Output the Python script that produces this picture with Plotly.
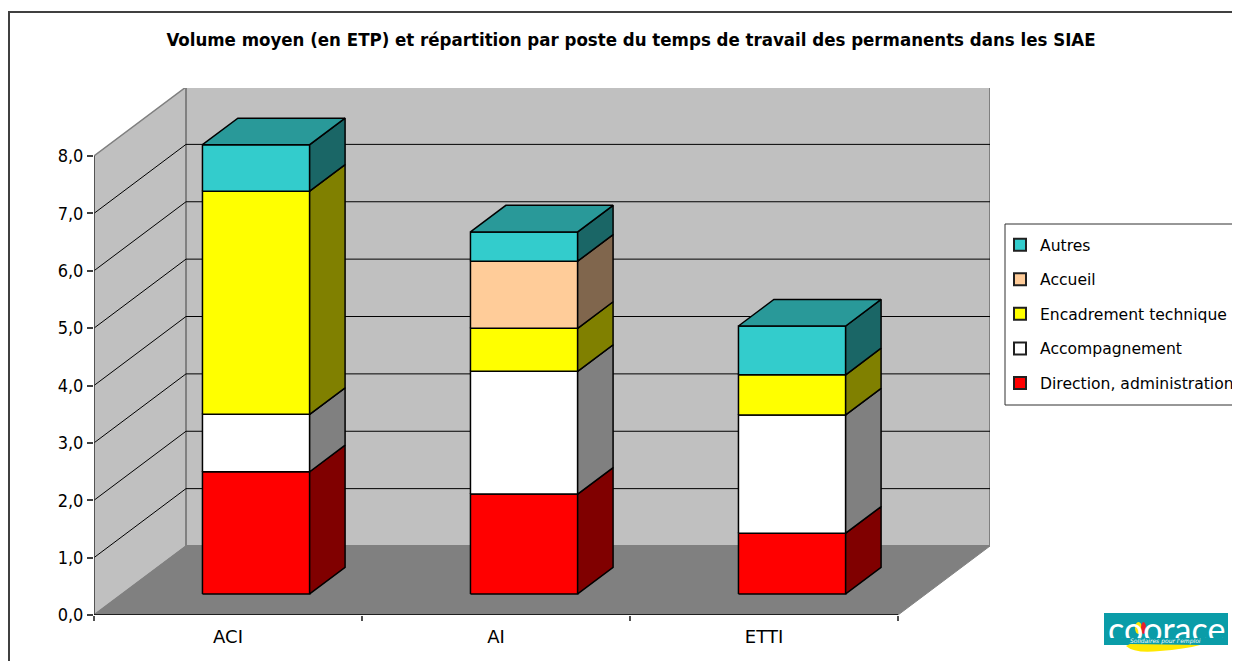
import plotly.graph_objects as go

# ---- data ----
categories = ["ACI", "AI", "ETTI"]
series_names = ["Direction, administration", "Accompagnement", "Encadrement technique", "Accueil", "Autres"]
direction = [2.13, 1.74, 1.06]
accompagnement = [1.00, 2.14, 2.06]
encadrement = [3.89, 0.75, 0.70]
accueil = [0.0, 1.17, 0.0]
autres = [0.81, 0.51, 0.85]
series_values = [direction, accompagnement, encadrement, accueil, autres]
y_ticks = [0, 1, 2, 3, 4, 5, 6, 7, 8]
y_labels = ["0,0", "1,0", "2,0", "3,0", "4,0", "5,0", "6,0", "7,0", "8,0"]

front_colors = ["#ff0000", "#ffffff", "#ffff00", "#ffcc99", "#33cccc"]
side_colors = ["#800000", "#808080", "#808000", "#80664d", "#1a6666"]
top_colors = ["#cc0000", "#cccccc", "#cccc00", "#cca37a", "#299999"]

# ---- layout geometry (page pixels; the page body has an 8 px margin) ----
BODY = 8
W, H = 1240, 661
L, R, T, B = 94, 990, 88, 615
PX_X = (898 - 94) / 3.0      # px per category
PX_Y = (615 - 156) / 8.0     # px per unit
XMAX = (R - L) / PX_X
YMAX = (B - T) / PX_Y
DX = 92.0 / PX_X             # oblique offset of full depth, data units
DY = 69.0 / PX_Y
COND = "DejaVu Sans Condensed, DejaVu Sans"
REG = "DejaVu Sans"
BAR_W = 0.40
D0, D1 = 0.305, 0.69


def P(x, y, d=0.0):
    return x + d * DX, y + d * DY


def poly(points, fill, line="#000000", lw=1.5):
    xs = [p[0] for p in points] + [points[0][0]]
    ys = [p[1] for p in points] + [points[0][1]]
    fig.add_trace(go.Scatter(x=xs, y=ys, mode="lines", fill="toself", fillcolor=fill,
                             line=dict(color=line, width=lw), hoverinfo="skip",
                             showlegend=False))


def seg(points, color, lw=1.0):
    fig.add_trace(go.Scatter(x=[p[0] for p in points], y=[p[1] for p in points], mode="lines",
                             line=dict(color=color, width=lw), hoverinfo="skip",
                             showlegend=False))


fig = go.Figure()
n = len(categories)
top = y_ticks[-1]

# walls and floor
poly([P(0, 0), P(0, top), P(0, top, 1), P(0, 0, 1)], "#c0c0c0", "#808080", 1.5)
poly([P(0, 0, 1), P(0, top, 1), P(n, top, 1), P(n, 0, 1)], "#c0c0c0", "#808080", 2)
poly([P(0, 0), P(n, 0), P(n, 0, 1), P(0, 0, 1)], "#808080", "#808080", 1)

# gridlines
for v in y_ticks[1:-1]:
    seg([P(0, v), P(0, v, 1), P(n, v, 1)], "#000000", 1)

# axes
seg([P(0, 0), P(0, top)], "#404040", 1.5)
seg([P(0, 0), P(n, 0)], "#000000", 1.5)

# stacked bars
for i in range(n):
    xa = i + 0.5 - BAR_W / 2
    xb = i + 0.5 + BAR_W / 2
    base = 0.0
    last = 0
    for s, vals in enumerate(series_values):
        v = vals[i]
        if v <= 0:
            continue
        t = base + v
        poly([P(xa, base, D0), P(xb, base, D0), P(xb, t, D0), P(xa, t, D0)], front_colors[s])
        poly([P(xb, base, D0), P(xb, base, D1), P(xb, t, D1), P(xb, t, D0)], side_colors[s])
        base = t
        last = s
    poly([P(xa, base, D0), P(xb, base, D0), P(xb, base, D1), P(xa, base, D1)], top_colors[last])

# legend entries (top of the stack first)
for s in reversed(range(len(series_names))):
    name = series_names[s]
    fig.add_trace(go.Scatter(x=[None], y=[None], mode="markers", name=name,
                             legendgroup=name,
                             marker=dict(symbol="square", size=11, color=front_colors[s],
                                         line=dict(color="#202020", width=1.5))))


def px(x):
    return (x - L) / (R - L)


def py(y):
    return (B - y) / (B - T)


shapes = [
    dict(type="rect", xref="paper", yref="paper", x0=px(9), x1=px(1300), y0=py(700), y1=py(12),
         line=dict(color="#404040", width=2), fillcolor="rgba(0,0,0,0)", layer="below"),
    dict(type="rect", xref="paper", yref="paper", x0=px(1005), x1=px(1236), y0=py(405), y1=py(224),
         line=dict(color="#303030", width=1), fillcolor="white", layer="below"),
    dict(type="rect", xref="paper", yref="paper", x0=px(1104), x1=px(1228), y0=py(645), y1=py(613),
         line=dict(width=0), fillcolor="#0a9ca8"),
    dict(type="path", xref="paper", yref="paper",
         path=f"M {px(1126)} {py(646)} Q {px(1135)} {py(654)} {px(1160)} {py(651)} "
              f"Q {px(1185)} {py(649)} {px(1200)} {py(645)} L {px(1130)} {py(644)} Z",
         line=dict(width=0), fillcolor="#ffe800"),
    dict(type="circle", xref="paper", yref="paper", x0=px(1135), x1=px(1142), y0=py(634), y1=py(622),
         line=dict(width=0), fillcolor="#ffe800"),
    dict(type="circle", xref="paper", yref="paper", x0=px(1141), x1=px(1146), y0=py(634), y1=py(622),
         line=dict(width=0), fillcolor="#e8202a"),
]

fig.update_layout(
    width=W, height=H, autosize=False,
    paper_bgcolor="white", plot_bgcolor="white",
    margin=dict(l=L - BODY, r=W - (R - BODY), t=T - BODY, b=H - (B - BODY), pad=0, autoexpand=False),
    title=dict(text="<b>Volume moyen (en ETP) et répartition par poste du temps de travail des permanents dans les SIAE</b>",
               x=(631 - BODY) / W, xanchor="center", y=1 - (40 - BODY) / H, yanchor="middle",
               font=dict(family=COND, size=18.5, color="black")),
    xaxis=dict(range=[0, XMAX], showgrid=False, zeroline=False, showline=False,
               tickmode="array", tickvals=[0.5, 1.5, 2.5], ticktext=categories,
               ticks="", ticklabelstandoff=9, tickfont=dict(family=REG, size=18, color="black"),
               minor=dict(tickmode="array", tickvals=[0, 1, 2, 3], ticks="outside", ticklen=5,
                          tickwidth=1.5, tickcolor="#505050", showgrid=False)),
    yaxis=dict(range=[0, YMAX], showgrid=False, zeroline=False, showline=False,
               tickmode="array", tickvals=y_ticks, ticktext=y_labels,
               ticks="outside", ticklen=6, tickwidth=1.5, tickcolor="#404040",
               tickfont=dict(family=COND, size=18, color="black")),
    legend=dict(x=px(1000), xanchor="left", y=py(228), yanchor="top",
                bgcolor="rgba(0,0,0,0)", borderwidth=0,
                traceorder="grouped", tracegroupgap=11.3, itemsizing="constant",
                font=dict(family=REG, size=15.6, color="black")),
    shapes=shapes,
    annotations=[
        dict(xref="paper", yref="paper", x=px(1166), y=py(627.5), text="coorace", showarrow=False,
             xanchor="center", yanchor="middle", height=20,
             font=dict(family="Lato, DejaVu Sans", size=34, color="white")),
        dict(xref="paper", yref="paper", x=px(1165), y=py(641), text="<i>Solidaires pour l'emploi</i>",
             showarrow=False, xanchor="center", yanchor="middle",
             font=dict(family="DejaVu Sans", size=6, color="white")),
    ],
)

fig.write_html("out.html")
